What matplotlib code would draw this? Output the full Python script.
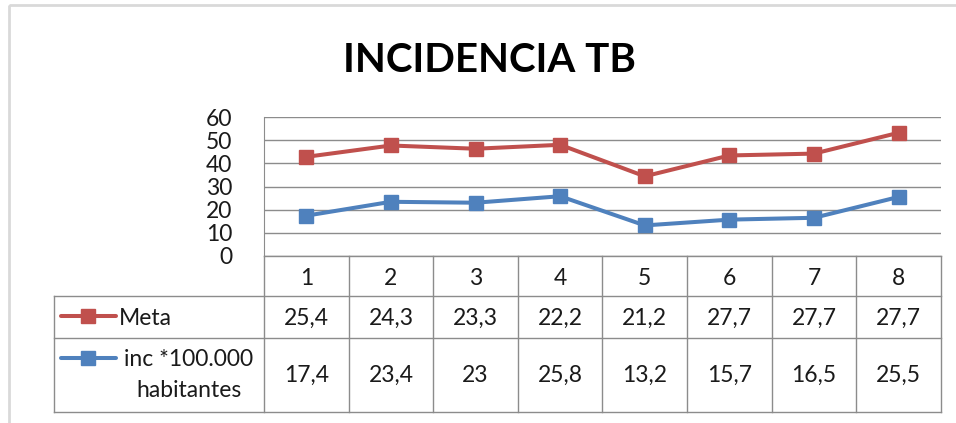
import numpy as np
import matplotlib
matplotlib.use("Agg")
import matplotlib.pyplot as plt
from matplotlib.patches import Rectangle

plt.rcParams['font.family'] = ['Lato', 'DejaVu Sans']

categorias = ["1", "2", "3", "4", "5", "6", "7", "8"]
meta = [25.4, 24.3, 23.3, 22.2, 21.2, 27.7, 27.7, 27.7]
incidencia = [17.4, 23.4, 23.0, 25.8, 13.2, 15.7, 16.5, 25.5]
series_labels = ["Meta", "inc *100.000", "habitantes"]

ROJO = "#C0504D"
AZUL = "#4F81BD"
GRIS = "#8C8C8C"
TEXTO = "#1a1a1a"

W, H = 956, 423
fig = plt.figure(figsize=(W / 100, H / 100), dpi=100)

# plot area in pixels
px_left, px_right, px_top, px_bottom = 264, 941, 117, 256
ax = fig.add_axes([px_left / W, 1 - px_bottom / H,
                   (px_right - px_left) / W, (px_bottom - px_top) / H])

x = np.arange(len(categorias)) + 0.5
inc = np.array(incidencia)
acum = inc + np.array(meta)   # stacked line: Meta sits on top of incidence

ax.plot(x, acum, color=ROJO, lw=2.9, marker="s", ms=10.5, zorder=3, clip_on=False)
ax.plot(x, inc, color=AZUL, lw=2.9, marker="s", ms=10.5, zorder=3, clip_on=False)

ax.set_xlim(0, len(categorias))
ax.set_ylim(0, 60)
ax.set_yticks(range(0, 61, 10))
ax.set_xticks([])
ax.yaxis.grid(True, color=GRIS, lw=1)
ax.set_axisbelow(True)
for s in ["top", "right", "bottom"]:
    ax.spines[s].set_visible(False)
ax.spines["left"].set_color(GRIS)
ax.tick_params(axis="y", length=0, pad=23, labelsize=16.5, labelcolor=TEXTO)

# overlay in pixel coordinates for the data table and the frame
ov = fig.add_axes([0, 0, 1, 1], zorder=5)
ov.set_xlim(0, W)
ov.set_ylim(H, 0)
ov.axis("off")
ov.patch.set_alpha(0)

ov.add_patch(Rectangle((9, 5), W, H, fill=False, ec="#D9D9D9", lw=2))

ov.text(490, 72, "INCIDENCIA TB", ha="center", va="baseline",
        fontsize=29, fontweight="bold", color="black")

col_w = (px_right - px_left) / len(categorias)
tab_left = 54
rows = [256, 296.5, 338, 412]
lkw = dict(color=GRIS, lw=1)
ov.plot([px_left, px_right], [rows[0], rows[0]], **lkw)
for yy in rows[1:]:
    ov.plot([tab_left, px_right], [yy, yy], **lkw)
ov.plot([tab_left, tab_left], [rows[1], rows[3]], **lkw)
for k in range(len(categorias) + 1):
    xx = px_left + k * col_w
    ov.plot([xx, xx], [rows[0], rows[3]], **lkw)

fs = 16.5
base = [285, 325, 382]   # text baselines of the three table rows
for k, cat in enumerate(categorias):
    cx = px_left + (k + 0.5) * col_w
    ov.text(cx, base[0], cat, ha="center", va="baseline", fontsize=fs, color=TEXTO)
    ov.text(cx, base[1], f"{meta[k]:g}".replace(".", ","),
            ha="center", va="baseline", fontsize=fs, color=TEXTO)
    ov.text(cx, base[2], f"{incidencia[k]:g}".replace(".", ","),
            ha="center", va="baseline", fontsize=fs, color=TEXTO)

# legend keys inside the table
for yy, col in [(316.5, ROJO), (358, AZUL)]:
    ov.plot([61, 116], [yy, yy], color=col, lw=2.9, solid_capstyle="round")
    ov.plot([88.5], [yy], marker="s", ms=10, color=col)
ov.text(119, base[1], series_labels[0], ha="left", va="baseline", fontsize=fs, color=TEXTO)
ov.text(189, 366, series_labels[1], ha="center", va="baseline", fontsize=fs, color=TEXTO)
ov.text(189, 397, series_labels[2], ha="center", va="baseline", fontsize=fs, color=TEXTO)

fig.savefig("out.png", dpi=100)
